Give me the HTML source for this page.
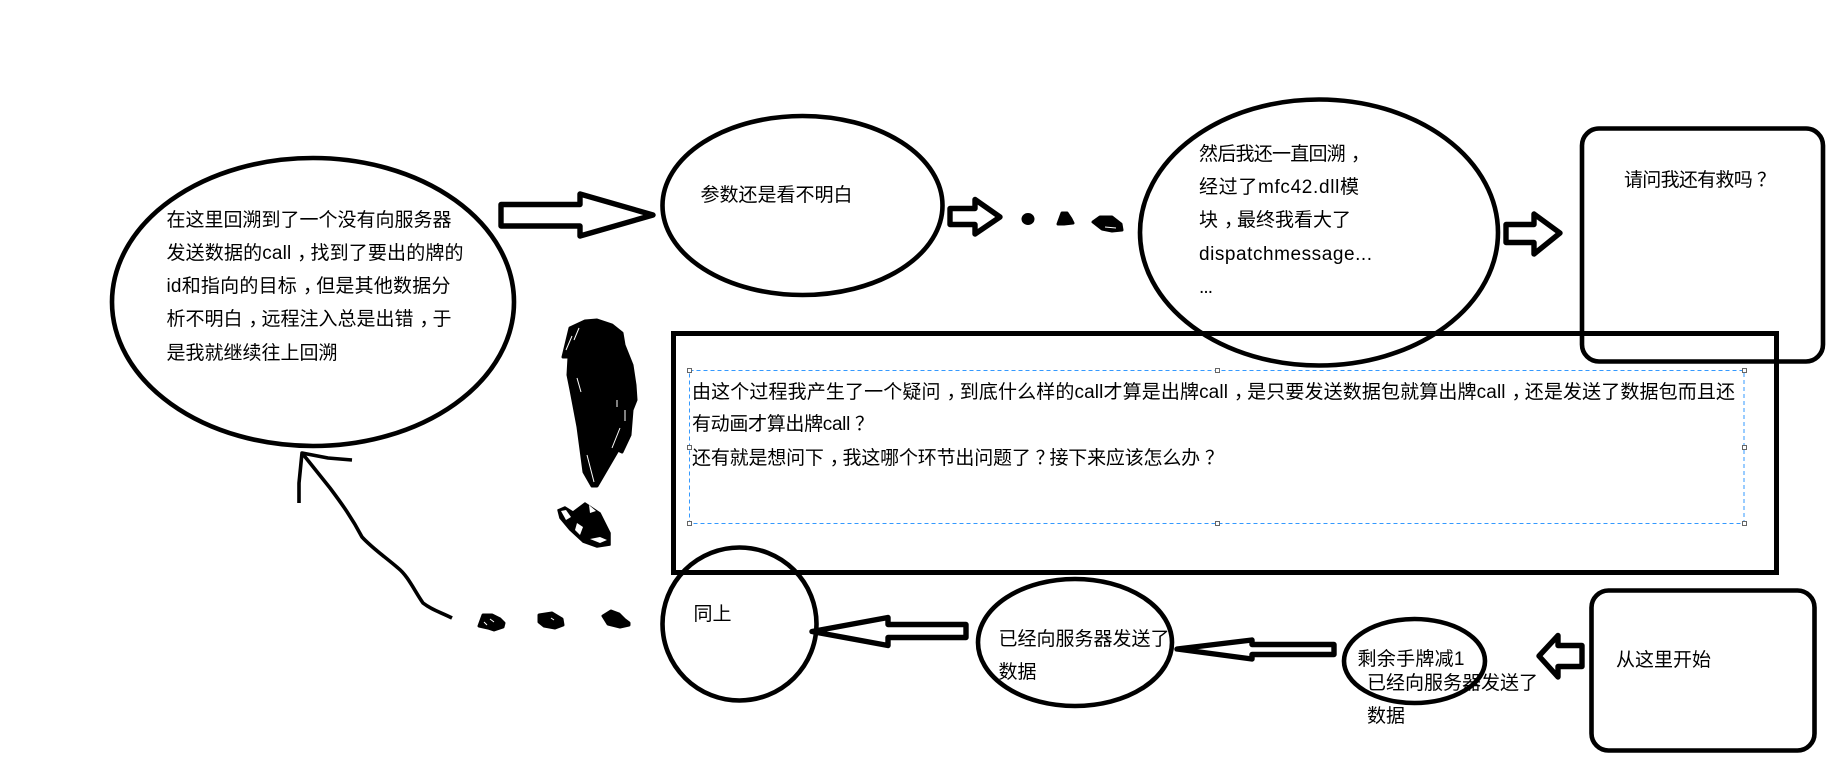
<!DOCTYPE html>
<html lang="zh">
<head>
<meta charset="utf-8">
<title>diagram</title>
<style>
html,body{margin:0;padding:0;background:#fff}
svg{display:block}
text{font-family:"Liberation Sans","Noto Sans CJK SC",sans-serif;font-size:19px;fill:#000}
.s{fill:none;stroke:#000;stroke-width:4.6}
.a{fill:#fff;stroke:#000;stroke-width:5.4;stroke-linejoin:round}
.b{fill:#000;stroke:#000;stroke-width:3;stroke-linejoin:round}
.h{fill:none;stroke:#000;stroke-width:3.6;stroke-linejoin:round;stroke-linecap:butt}
.w{fill:none;stroke:#fff;stroke-width:1}
.g{fill:#fff;stroke:#666;stroke-width:1}
</style>
</head>
<body>
<svg width="1845" height="771" viewBox="0 0 1845 771" xmlns="http://www.w3.org/2000/svg">
<rect width="1845" height="771" fill="#fff"/>

<!-- big rectangle -->
<rect x="673.5" y="333.5" width="1103" height="239" fill="none" stroke="#000" stroke-width="5" shape-rendering="crispEdges"/>

<!-- ellipses -->
<ellipse class="s" cx="313" cy="302" rx="201" ry="144"/>
<ellipse class="s" cx="802.5" cy="205.5" rx="140" ry="89.5"/>
<ellipse class="s" cx="1319" cy="232.5" rx="179" ry="133"/>
<ellipse class="s" cx="739.5" cy="624" rx="77" ry="76.5"/>
<ellipse class="s" cx="1075" cy="642.5" rx="97" ry="63.5"/>
<ellipse class="s" cx="1414.5" cy="661" rx="70.5" ry="42"/>

<!-- rounded rectangles -->
<rect class="s" x="1582" y="128.5" width="241" height="233" rx="17" ry="17"/>
<rect class="s" x="1591.5" y="590.5" width="223" height="160" rx="17" ry="17"/>

<!-- block arrows -->
<polygon class="a" points="501,204.5 580,204.5 580,194 653,215 580,236 580,226 501,226"/>
<polygon class="a" points="950,208.5 975,208.5 975,199.5 1000,217 975,234 975,224.5 950,224.5"/>
<polygon class="a" points="1506,224.5 1534,224.5 1534,214 1560,233 1534,254 1534,242.5 1506,242.5"/>
<polygon class="a" points="966,624.5 888,624.5 888,617.5 812,631.5 888,645.5 888,637.5 966,637.5"/>
<polygon class="a" points="1334,644.5 1252,644.5 1252,640 1177,649 1252,659 1252,654.5 1334,654.5"/>
<polygon class="a" points="1582,645.5 1558,645.5 1558,635.5 1539,656 1558,677 1558,666.5 1582,666.5"/>

<!-- hand drawn dots top -->
<ellipse class="b" cx="1028" cy="219" rx="5" ry="4.5"/>
<path class="b" d="M1058,224 L1062,213 L1067,213 L1071,219 L1073,223 L1064,224 Z"/>
<path class="b" d="M1093,222 L1100,217 L1112,217 L1121,224 L1122,230 L1112,231 L1102,229 Z"/>
<path class="w" d="M1105,227 L1116,228"/>

<!-- hand drawn dots bottom -->
<path class="b" d="M479,626 L483,615 L492,615 L500,619 L504,623 L503,627 L494,630 L488,628 Z"/>
<path class="w" d="M490,619 L494,622 M484,622 L487,625"/>
<path class="b" d="M539,615 L552,613 L562,619 L563,625 L555,628 L544,626 L539,622 Z"/>
<path class="w" d="M551,618 L554,620"/>
<path class="b" d="M603,616 L611,611 L619,614 L625,620 L629,623 L629,625 L620,627 L608,624 Z"/>

<!-- big scribble -->
<path class="b" d="M563,357 L570,328 L585,321 L597,320 L612,325 L622,333 L624,345 L632,365 L635,385 L636,400 L632,410 L630,435 L622,452 L618,450 L597,486 L592,486 L584,472 L578,427 L571,390 L568,375 L569,357 Z"/>
<path class="w" d="M572,336 L566,350 M579,328 L574,340 M577,378 L581,392 M587,455 L594,482 M617,400 L617,407 M625,410 L625,421 M620,428 L612,448"/>

<!-- small scribble -->
<path d="M558,510 L565,507 L573,512 L585,503 L600,513 L610,533 L610,545 L597,547 L583,542 L570,530 L560,518 Z" fill="#000" stroke="#000" stroke-width="1.5" stroke-linejoin="round"/>
<path d="M561,511 L566,510 L571,517 L566,520 Z" fill="#fff"/>
<path d="M577,523 L583,527 L580,535 L575,530 Z" fill="#fff"/>
<path d="M589,505 L596,511 L590,513 Z" fill="#fff"/>
<path d="M590,539 L600,543 L607,540 L600,537 Z" fill="#fff"/>

<!-- hand drawn arrow -->
<path class="h" d="M452,618 C440,612 432,610 423,603 C414,590 408,576 398,568 C384,556 372,548 362,537 C352,518 342,504 330,488 L302,453"/>
<path class="h" d="M299,503 L299,483 L302,453 L328,458 L352,460"/>

<!-- selection box -->
<rect x="689.5" y="370.5" width="1054.5" height="153" fill="none" stroke="#3399ff" stroke-width="1" stroke-dasharray="4 3" shape-rendering="crispEdges"/>
<g shape-rendering="crispEdges">
<rect class="g" x="687.5" y="368.5" width="4" height="4"/>
<rect class="g" x="1215.5" y="368.5" width="4" height="4"/>
<rect class="g" x="1742.5" y="368.5" width="4" height="4"/>
<rect class="g" x="687.5" y="445.5" width="4" height="4"/>
<rect class="g" x="1742.5" y="445.5" width="4" height="4"/>
<rect class="g" x="687.5" y="521.5" width="4" height="4"/>
<rect class="g" x="1215.5" y="521.5" width="4" height="4"/>
<rect class="g" x="1742.5" y="521.5" width="4" height="4"/>
</g>

<!-- labels -->
<text x="166.5" y="226" textLength="285" lengthAdjust="spacing">在这里回溯到了一个没有向服务器</text>
<text x="166.5" y="259" textLength="297" lengthAdjust="spacing">发送数据的call<tspan dx="6">，</tspan><tspan dx="-6">找到了要出的牌的</tspan></text>
<text x="166.5" y="292" textLength="284" lengthAdjust="spacing">id和指向的目标<tspan dx="6">，</tspan><tspan dx="-6">但是其他数据分</tspan></text>
<text x="166.5" y="325" textLength="285" lengthAdjust="spacing">析不明白<tspan dx="6">，</tspan><tspan dx="-6">远程注入总是出错</tspan><tspan dx="6">，</tspan><tspan dx="-6">于</tspan></text>
<text x="166.5" y="359" textLength="171" lengthAdjust="spacing">是我就继续往上回溯</text>

<text x="700.5" y="201" textLength="152" lengthAdjust="spacing">参数还是看不明白</text>

<text x="1199" y="160" textLength="171" lengthAdjust="spacing">然后我还一直回溯<tspan dx="6">，</tspan></text>
<text x="1199" y="193" textLength="160" lengthAdjust="spacing">经过了mfc42.dll模</text>
<text x="1199" y="226" textLength="152" lengthAdjust="spacing">块<tspan dx="6">，</tspan><tspan dx="-6">最终我看大了</tspan></text>
<text x="1199" y="260" textLength="173" lengthAdjust="spacing">dispatchmessage...</text>
<text x="1199" y="293" textLength="14" lengthAdjust="spacing">...</text>

<text x="1624" y="186" textLength="152" lengthAdjust="spacing">请问我还有救吗<tspan dx="5">？</tspan></text>

<text x="692" y="398" textLength="1043" lengthAdjust="spacing">由这个过程我产生了一个疑问<tspan dx="6">，</tspan><tspan dx="-6">到底什么样的call才算是出牌call</tspan><tspan dx="6">，</tspan><tspan dx="-6">是只要发送数据包就算出牌call</tspan><tspan dx="6">，</tspan><tspan dx="-6">还是发送了数据包而且还</tspan></text>
<text x="692" y="430" textLength="182" lengthAdjust="spacing">有动画才算出牌call<tspan dx="5">？</tspan></text>
<text x="692" y="464" textLength="532" lengthAdjust="spacing">还有就是想问下<tspan dx="6">，</tspan><tspan dx="-6">我这哪个环节出问题了</tspan><tspan dx="5">？</tspan><tspan dx="-5">接下来应该怎么办</tspan><tspan dx="5">？</tspan></text>

<text x="693.5" y="620" textLength="38" lengthAdjust="spacing">同上</text>

<text x="998.5" y="645" textLength="171" lengthAdjust="spacing">已经向服务器发送了</text>
<text x="998.5" y="678" textLength="38" lengthAdjust="spacing">数据</text>

<text x="1357.5" y="665" textLength="107" lengthAdjust="spacing">剩余手牌减1</text>
<text x="1367" y="689" textLength="171" lengthAdjust="spacing">已经向服务器发送了</text>
<text x="1367" y="722" textLength="38" lengthAdjust="spacing">数据</text>

<text x="1616" y="666" textLength="95" lengthAdjust="spacing">从这里开始</text>
</svg>
</body>
</html>
